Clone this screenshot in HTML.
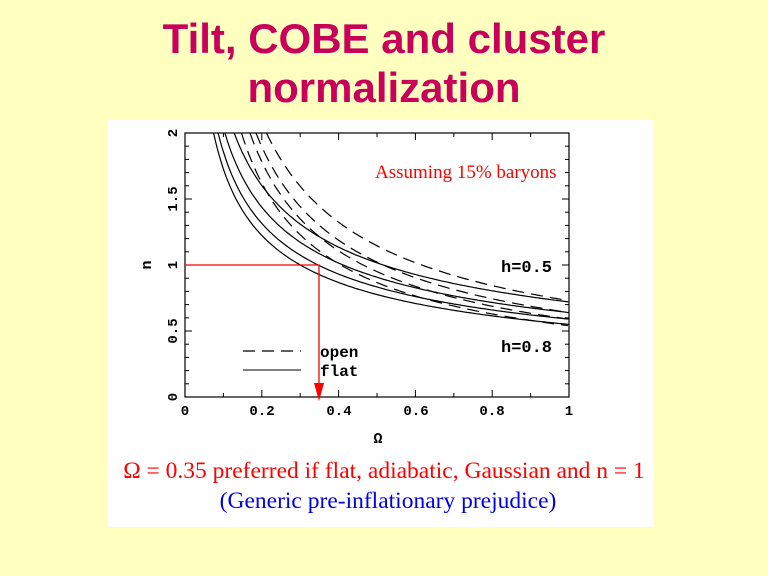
<!DOCTYPE html>
<html><head><meta charset="utf-8"><style>
html,body{margin:0;padding:0;}
body{width:768px;height:576px;background:#ffffc0;position:relative;overflow:hidden;}
.t{position:absolute;left:0;width:768px;text-align:center;font-family:"Liberation Sans",sans-serif;font-weight:bold;font-size:42px;color:#c8005a;line-height:48px;}
</style></head><body>
<div class="t" style="top:15px">Tilt, COBE and cluster</div>
<div class="t" style="top:64px">normalization</div>
<svg width="768" height="576" style="position:absolute;left:0;top:0" xmlns="http://www.w3.org/2000/svg">
<rect x="108" y="120" width="546" height="407" fill="#fefefe"/>
<g id="ticks" stroke="#000" stroke-width="1"></g>
<rect x="185" y="133" width="384" height="264" fill="none" stroke="#000" stroke-width="1.2"/>
<g id="curves" fill="none" stroke="#000" stroke-width="1.2"></g>
<g font-family="Liberation Mono, monospace" font-size="14" font-weight="bold" fill="#000">
<text x="185" y="415" text-anchor="middle">0</text>
<text x="262" y="415" text-anchor="middle">0.2</text>
<text x="339" y="415" text-anchor="middle">0.4</text>
<text x="416" y="415" text-anchor="middle">0.6</text>
<text x="492" y="415" text-anchor="middle">0.8</text>
<text x="569" y="415" text-anchor="middle">1</text>
<text transform="translate(177,397) rotate(-90)" text-anchor="middle">0</text>
<text transform="translate(177,331) rotate(-90)" text-anchor="middle">0.5</text>
<text transform="translate(177,265) rotate(-90)" text-anchor="middle">1</text>
<text transform="translate(177,199) rotate(-90)" text-anchor="middle">1.5</text>
<text transform="translate(177,133) rotate(-90)" text-anchor="middle">2</text>
<text transform="translate(151,265) rotate(-90)" text-anchor="middle" font-size="15">n</text>
<text x="378" y="443" text-anchor="middle" font-size="15">Ω</text>
<text x="501" y="272" font-size="17">h=0.5</text>
<text x="501" y="352" font-size="17">h=0.8</text>
<text x="320" y="357" font-size="16">open</text>
<text x="320" y="376" font-size="16">flat</text>
</g>
<line x1="243" y1="351" x2="301" y2="351" stroke="#000" stroke-width="1.2" stroke-dasharray="12,7"/>
<line x1="243" y1="370" x2="301" y2="370" stroke="#000" stroke-width="1"/>
<text x="375" y="178" font-family="Liberation Serif, serif" font-size="19" fill="#f00">Assuming 15% baryons</text>
<polyline points="185,265 319,265 319,385" fill="none" stroke="#f00" stroke-width="1.3"/>
<polygon points="314,383 324,383 319,401" fill="#f00"/>
<text x="384" y="478" text-anchor="middle" font-family="Liberation Serif, serif" font-size="23.5" fill="#f00">Ω = 0.35 preferred if flat, adiabatic, Gaussian and n = 1</text>
<text x="388" y="508" text-anchor="middle" font-family="Liberation Serif, serif" font-size="23.5" fill="#0000e0">(Generic pre-inflationary prejudice)</text>
</svg>
<script>
var X=function(o){return 185+o*384},Y=function(n){return 397-n*132};
var tk=document.getElementById('ticks'),s='';
for(var i=1;i<10;i++){var x=X(i/10),L=i%2==0?7:4;s+='<line x1="'+x+'" y1="397" x2="'+x+'" y2="'+(397-L)+'"/><line x1="'+x+'" y1="133" x2="'+x+'" y2="'+(133+L)+'"/>';}
for(var i=1;i<20;i++){var y=Y(i/10),L=i%5==0?7:4;s+='<line x1="185" y1="'+y+'" x2="'+(185+L)+'" y2="'+y+'"/><line x1="569" y1="'+y+'" x2="'+(569-L)+'" y2="'+y+'"/>';}
tk.innerHTML=s;
var cv=document.getElementById('curves'),h='';
function path(c,p,dash){var o0=Math.pow(c/2,1/p);var d='M'+X(o0).toFixed(1)+','+Y(2);
 for(var o=o0+0.005;o<=1.0001;o+=0.005){var n=c*Math.pow(o,-p);d+='L'+X(o).toFixed(1)+','+Y(n).toFixed(1);}
 return '<path d="'+d+'"'+(dash?' stroke-dasharray="12,7"':'')+'/>';}
[[0.55,0.497],[0.59,0.498],[0.64,0.503],[0.72,0.497]].forEach(function(a){h+=path(a[0],a[1],false);});
[[0.54,0.683],[0.59,0.687],[0.64,0.675],[0.73,0.65]].forEach(function(a){h+=path(a[0],a[1],true);});
cv.innerHTML=h;
</script>
</body></html>
